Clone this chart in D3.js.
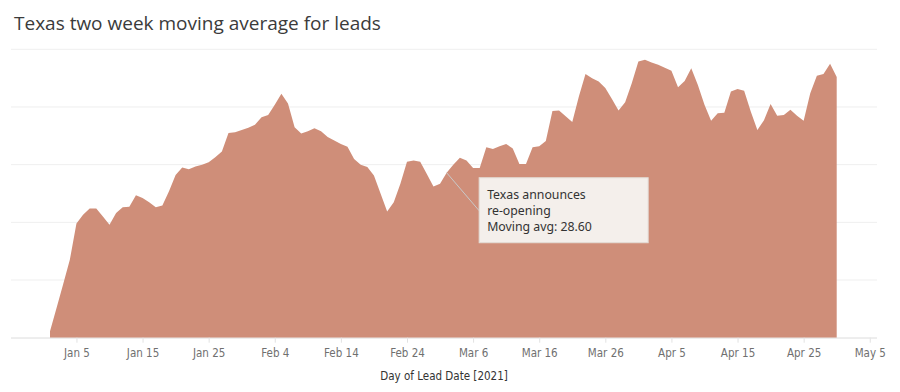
<!DOCTYPE html>
<html>
<head>
<meta charset="utf-8">
<script src="https://cdn.jsdelivr.net/npm/d3@7"></script>
<style>
  body { margin: 0; background: #fff; }
  svg { display: block; }
</style>
</head>
<body>
<div id="chart"></div>
<script>
// two week moving average of leads, one value per day (2021)
var jan = [1.1, 5.2, 9.3, 13.5, 19.8, 21.3, 22.4, 22.4, 21.0, 19.6, 21.6, 22.6, 22.7, 24.7, 24.2, 23.5,
           22.6, 22.9, 25.4, 28.2, 29.5, 29.2, 29.7, 30.0, 30.4, 31.3, 32.3, 35.5, 35.6, 36.0, 36.4];
var feb = [36.9, 38.2, 38.6, 40.4, 42.3, 40.6, 36.5, 35.4, 35.8, 36.3, 35.8, 34.8, 34.2, 33.6,
           33.1, 31.0, 30.0, 29.6, 28.1, 25.0, 21.9, 23.5, 26.7, 30.5, 30.7, 30.5, 28.4, 26.2];
var mar = [26.7, 28.6, 30.0, 31.2, 30.7, 29.4, 29.4, 33.0, 32.7, 33.2, 33.6, 32.8, 30.1, 30.1, 33.0, 33.2,
           34.1, 39.3, 39.4, 38.4, 37.4, 41.8, 45.7, 45.0, 44.4, 43.3, 41.4, 39.4, 40.8, 44.1, 47.9];
var apr = [48.2, 47.7, 47.3, 46.8, 46.3, 43.4, 44.5, 46.7, 43.8, 40.4, 37.6, 38.9, 39.0, 42.7, 43.1,
           42.8, 39.2, 36.0, 37.7, 40.5, 38.5, 38.6, 39.5, 38.5, 37.6, 42.4, 45.4, 45.7, 47.5, 45.2];

var tickDates = ["2021-01-05", "2021-01-15", "2021-01-25", "2021-02-04", "2021-02-14", "2021-02-24",
                 "2021-03-06", "2021-03-16", "2021-03-26", "2021-04-05", "2021-04-15", "2021-04-25", "2021-05-05"];
var yTicks = [0, 10, 20, 30, 40, 50];

var noteDate = "2021-03-02";
var noteLines = ["Texas announces", "re-opening", "Moving avg: 28.60"];

var parse = d3.timeParse("%Y-%m-%d");
var values = jan.concat(feb, mar, apr);
var days = d3.timeDay.range(parse("2021-01-01"), parse("2021-05-01"));
var data = days.map(function(d, i) { return {date: d, avg: values[i]}; });

var width = 900, height = 392;
var plot = {left: 11, right: 877, top: 49.3, bottom: 337.7};
var narrow = "'Liberation Sans Narrow', 'DejaVu Sans Condensed', sans-serif";

var svg = d3.select("#chart")
    .append("svg")
    .attr("width", width)
    .attr("height", height);

// title
svg.append("text")
    .attr("x", 14)
    .attr("y", 30)
    .style("font-family", "'Open Sans', 'Noto Sans', sans-serif")
    .style("font-size", "19px")
    .style("fill", "#3b3b3b")
    .text("Texas two week moving average for leads");

var x = d3.scaleTime()
    .domain([parse("2021-01-01"), parse("2021-04-30")])
    .range([50, 836.7]);

var y = d3.scaleLinear()
    .domain([0, 50])
    .range([plot.bottom, plot.top]);

// gridlines
svg.append("g")
    .selectAll("line")
    .data(yTicks)
    .enter()
    .append("line")
    .attr("x1", plot.left)
    .attr("x2", plot.right)
    .attr("y1", function(d) { return y(d); })
    .attr("y2", function(d) { return y(d); })
    .attr("stroke", "#efefef")
    .attr("stroke-width", 1);

// area
svg.append("path")
    .datum(data)
    .attr("fill", "#cf8e79")
    .attr("d", d3.area()
        .x(function(d) { return x(d.date); })
        .y0(y(0))
        .y1(function(d) { return y(d.avg); })
    );

// x axis
var xAxis = svg.append("g")
    .attr("transform", "translate(0," + plot.bottom + ")")
    .call(d3.axisBottom(x)
        .tickValues(tickDates.map(parse))
        .tickFormat(d3.timeFormat("%b %-d"))
        .tickSize(5)
        .tickPadding(6));
xAxis.select(".domain").remove();
xAxis.selectAll(".tick line").attr("stroke", "#e2e2e2");
xAxis.selectAll(".tick text")
    .style("font-family", narrow)
    .style("font-size", "11.5px")
    .style("fill", "#707070");

svg.append("line")
    .attr("x1", plot.left)
    .attr("x2", plot.right)
    .attr("y1", plot.bottom + 0.5)
    .attr("y2", plot.bottom + 0.5)
    .attr("stroke", "#e6e6e6");

svg.append("text")
    .attr("x", (plot.left + plot.right) / 2)
    .attr("y", 380)
    .attr("text-anchor", "middle")
    .style("font-family", narrow)
    .style("font-size", "11.5px")
    .style("fill", "#333")
    .text("Day of Lead Date [2021]");

// annotation
var nd = data.find(function(d) { return +d.date === +parse(noteDate); });
var px = x(nd.date), py = y(nd.avg);
var box = {x: px + 32.5, y: py + 5, w: 169, h: 65};

svg.append("line")
    .attr("x1", px)
    .attr("y1", py)
    .attr("x2", box.x)
    .attr("y2", box.y + 33)
    .attr("stroke", "#c9c9c9")
    .attr("stroke-width", 1);

svg.append("rect")
    .attr("x", box.x)
    .attr("y", box.y)
    .attr("width", box.w)
    .attr("height", box.h)
    .attr("fill", "#f4efeb")
    .attr("stroke", "#e3dcd6");

svg.append("g")
    .selectAll("text")
    .data(noteLines)
    .enter()
    .append("text")
    .attr("x", box.x + 8)
    .attr("y", function(d, i) { return box.y + 21 + i * 16.3; })
    .style("font-family", "'Noto Sans', 'Open Sans', sans-serif")
    .style("font-size", "12.3px")
    .style("fill", "#333")
    .text(function(d) { return d; });
</script>
</body>
</html>
